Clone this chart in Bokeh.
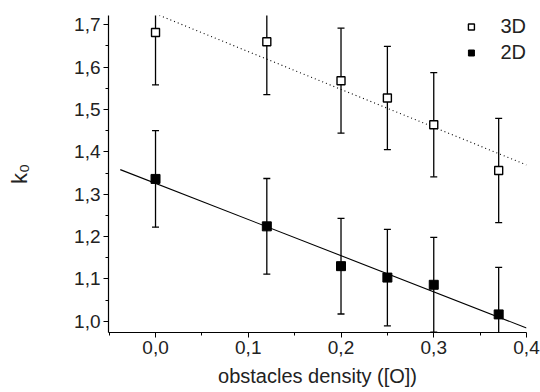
from bokeh.plotting import figure
from bokeh.models import Range1d, Legend, LegendItem, FixedTicker
from bokeh.embed import file_html
from bokeh.resources import INLINE

# ---- data ----
density = [0.0, 0.12, 0.2, 0.25, 0.3, 0.37]
k0_3d = [1.682, 1.660, 1.568, 1.527, 1.464, 1.356]
err_3d = [0.124, 0.125, 0.124, 0.122, 0.123, 0.123]
k0_2d = [1.336, 1.224, 1.130, 1.103, 1.086, 1.016]
err_2d = [0.114, 0.113, 0.113, 0.114, 0.112, 0.111]

fit2d_x = [-0.038, 0.40]
fit2d_y = [1.358, 0.984]
fit3d_x = [0.0, 0.40]
fit3d_y = [1.726, 1.369]

x_ticks = [0.0, 0.1, 0.2, 0.3, 0.4]
x_tick_labels = ["0,0", "0,1", "0,2", "0,3", "0,4"]
x_minor = [-0.05, 0.05, 0.15, 0.25, 0.35]
y_ticks = [1.0, 1.1, 1.2, 1.3, 1.4, 1.5, 1.6, 1.7]
y_tick_labels = ["1,0", "1,1", "1,2", "1,3", "1,4", "1,5", "1,6", "1,7"]
y_minor = [1.05, 1.15, 1.25, 1.35, 1.45, 1.55, 1.65]

FONT = "Liberation Sans"
TXT = "#222222"

p = figure(width=540, height=392,
           x_range=Range1d(-0.0507, 0.4), y_range=Range1d(0.9733, 1.722),
           output_backend="svg", toolbar_location=None,
           min_border_left=108, min_border_right=14,
           min_border_top=15, min_border_bottom=60)
p.outline_line_color = None
p.xgrid.visible = False
p.ygrid.visible = False
p.background_fill_color = "white"
p.border_fill_color = "white"

# fits
p.line(fit2d_x, fit2d_y, line_color="black", line_width=1.1)
p.line(fit3d_x, fit3d_y, line_color="black", line_width=1.1, line_dash="1 3")

# error bars
lo3 = [v - e for v, e in zip(k0_3d, err_3d)]
hi3 = [v + e for v, e in zip(k0_3d, err_3d)]
lo2 = [v - e for v, e in zip(k0_2d, err_2d)]
hi2 = [v + e for v, e in zip(k0_2d, err_2d)]
for lo, hi in ((lo3, hi3), (lo2, hi2)):
    p.segment(x0=density, y0=lo, x1=density, y1=hi, line_color="black", line_width=1.3)
    p.scatter(density, lo, marker="dash", size=7, line_color="black", line_width=1.3)
    p.scatter(density, hi, marker="dash", size=7, line_color="black", line_width=1.3)

# points
r3 = p.scatter(density, k0_3d, marker="square", size=8, fill_color="white",
               line_color="black", line_width=1.4)
r2 = p.scatter(density, k0_2d, marker="square", size=9, fill_color="black",
               line_color="black")

legend = Legend(items=[LegendItem(label="3D", renderers=[r3]),
                       LegendItem(label="2D", renderers=[r2])],
                location="top_right", border_line_color=None,
                background_fill_alpha=0, padding=0, margin=0, spacing=3,
                glyph_width=15, glyph_height=15, label_standoff=22,
                label_text_font=FONT, label_text_font_size="20px",
                label_text_color=TXT)
p.add_layout(legend)

# axes
for ax in (p.xaxis[0], p.yaxis[0]):
    ax.axis_line_color = "black"
    ax.axis_line_width = 1.2
    ax.major_tick_line_color = "black"
    ax.minor_tick_line_color = "black"
    ax.major_tick_in = 0
    ax.major_tick_out = 5
    ax.minor_tick_in = 0
    ax.minor_tick_out = 3
    ax.major_label_text_font = FONT
    ax.major_label_text_font_size = "19px"
    ax.major_label_text_color = TXT
    ax.axis_label_text_font = FONT
    ax.axis_label_text_font_style = "normal"
    ax.axis_label_text_color = TXT

p.xaxis[0].ticker = FixedTicker(ticks=x_ticks, minor_ticks=x_minor)
p.xaxis[0].major_label_overrides = dict(zip(x_ticks, x_tick_labels))
p.xaxis[0].major_label_standoff = 3
p.xaxis[0].axis_label = "obstacles density ([O])"
p.xaxis[0].axis_label_text_font_size = "20px"
p.xaxis[0].axis_label_standoff = 8

p.yaxis[0].ticker = FixedTicker(ticks=y_ticks, minor_ticks=y_minor)
p.yaxis[0].major_label_overrides = dict(zip(y_ticks, y_tick_labels))
p.yaxis[0].major_label_standoff = 3
p.yaxis[0].axis_label = "k₀"
p.yaxis[0].axis_label_text_font_size = "22px"
p.yaxis[0].axis_label_standoff = 39

open("out.html", "w").write(file_html(p, INLINE))
